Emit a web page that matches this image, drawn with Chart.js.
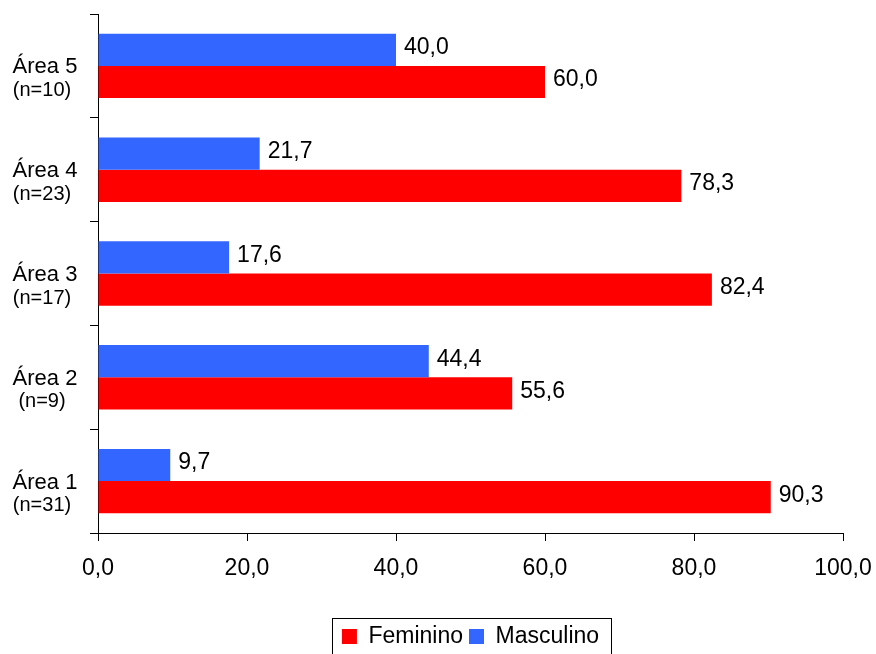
<!DOCTYPE html>
<html lang="pt">
<head>
    <meta charset="UTF-8">
    <title>Sexo por área</title>
    <script src="https://cdn.jsdelivr.net/npm/chart.js"></script>
    <style>
        html, body {
            margin: 0;
            padding: 0;
            background: #ffffff;
        }

        #areaChart {
            display: block;
        }
    </style>
</head>
<body>

    <canvas id="areaChart" width="876" height="654"></canvas>

    <script>
        const areas = ['Área 5', 'Área 4', 'Área 3', 'Área 2', 'Área 1'];
        const totals = ['(n=10)', '(n=23)', '(n=17)', '(n=9)', '(n=31)'];
        const masculino = [40.0, 21.7, 17.6, 44.4, 9.7];
        const feminino = [60.0, 78.3, 82.4, 55.6, 90.3];
        const xTicks = [0, 20, 40, 60, 80, 100];

        const FONT = '"Liberation Sans", Arial, sans-serif';
        const fmt = v => Number(v).toFixed(1).replace('.', ',');

        // area names with the group size underneath, plus the value at each bar end
        const labels = {
            id: 'labels',
            afterDatasetsDraw(chart) {
                const ctx = chart.ctx;
                const yScale = chart.scales.y;
                ctx.save();
                ctx.fillStyle = '#000';
                ctx.textAlign = 'center';
                ctx.textBaseline = 'alphabetic';
                areas.forEach((name, i) => {
                    const cy = yScale.getPixelForTick(i);
                    ctx.font = '22px ' + FONT;
                    ctx.fillText(name, 45, cy + 7.5);
                    ctx.font = '20px ' + FONT;
                    ctx.fillText(totals[i], 42, cy + 30);
                });

                ctx.font = '23px ' + FONT;
                ctx.textAlign = 'left';
                ctx.textBaseline = 'middle';
                chart.data.datasets.forEach((ds, di) => {
                    chart.getDatasetMeta(di).data.forEach((bar, i) => {
                        ctx.fillText(fmt(ds.data[i]), bar.x + 8, bar.y - 2);
                    });
                });
                ctx.restore();
            },
            afterDraw(chart) {
                // frame round the legend, open at the bottom edge of the canvas
                const lg = chart.legend;
                if (!lg || !lg.legendHitBoxes.length) return;
                const boxes = lg.legendHitBoxes;
                const left = Math.min(...boxes.map(b => b.left)) - 10;
                const right = Math.max(...boxes.map(b => b.left + b.width)) + 12;
                const ctx = chart.ctx;
                ctx.save();
                ctx.strokeStyle = '#000';
                ctx.lineWidth = 1;
                ctx.strokeRect(Math.round(left) + 0.5, Math.round(lg.top - 1) + 0.5,
                    Math.round(right - left), chart.height);
                ctx.restore();
            }
        };

        new Chart(document.getElementById('areaChart'), {
            type: 'bar',
            data: {
                labels: areas,
                datasets: [
                    {
                        label: 'Masculino',
                        data: masculino,
                        backgroundColor: '#3366FF'
                    },
                    {
                        label: 'Feminino',
                        data: feminino,
                        backgroundColor: '#FF0000'
                    }
                ]
            },
            options: {
                indexAxis: 'y',
                responsive: false,
                animation: false,
                devicePixelRatio: 1,
                categoryPercentage: 0.62,
                barPercentage: 1.0,
                layout: {
                    padding: { top: 14, right: 33, left: 0, bottom: -4 }
                },
                plugins: {
                    legend: {
                        position: 'bottom',
                        fullSize: false,
                        reverse: true,
                        labels: {
                            boxWidth: 15,
                            boxHeight: 15,
                            padding: 6,
                            color: '#000',
                            font: { family: FONT, size: 23 }
                        }
                    },
                    tooltip: { enabled: false }
                },
                scales: {
                    x: {
                        min: 0,
                        max: 100,
                        afterBuildTicks(scale) {
                            scale.ticks = xTicks.map(v => ({ value: v }));
                        },
                        afterFit(scale) {
                            scale.height = 86;
                            scale.paddingLeft = 0;
                            scale.paddingRight = 0;
                        },
                        ticks: {
                            color: '#000',
                            padding: 14,
                            maxRotation: 0,
                            font: { family: FONT, size: 23 },
                            callback: v => fmt(v)
                        },
                        grid: {
                            drawOnChartArea: false,
                            tickLength: 8,
                            color: '#000'
                        },
                        border: { color: '#000' }
                    },
                    y: {
                        afterFit(scale) { scale.width = 98; },
                        ticks: { color: 'rgba(0,0,0,0)' },
                        grid: {
                            drawOnChartArea: false,
                            tickLength: 8,
                            color: '#000'
                        },
                        border: { color: '#000' }
                    }
                }
            },
            plugins: [labels]
        });
    </script>
</body>
</html>
